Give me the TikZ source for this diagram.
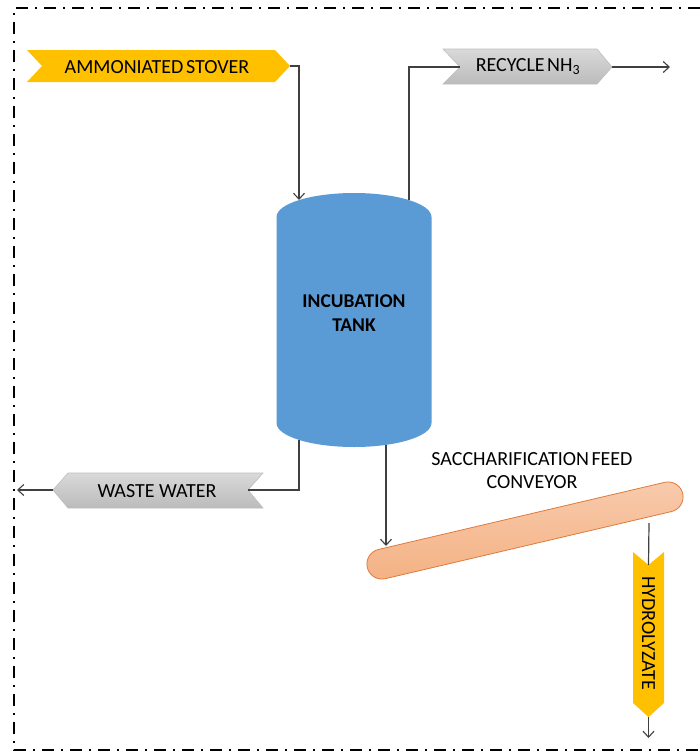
\documentclass[tikz,border=0pt]{standalone}
\usepackage{fontspec}
\setmainfont{Carlito}
\usetikzlibrary{arrows.meta,calc}
\definecolor{feedyellow}{HTML}{FFC000}
\definecolor{tankblue}{HTML}{5B9BD5}
\definecolor{streamgray}{HTML}{D0D0D0}
\definecolor{streamedge}{HTML}{BDBDBD}
\definecolor{convfill}{HTML}{F4B183}
\definecolor{convlight}{HTML}{F8CBAD}
\definecolor{convedge}{HTML}{E07A3A}
\definecolor{pipe}{HTML}{404040}
\tikzset{
  x=1pt, y=-1pt,
  lbl/.style={font=\fontsize{20}{23}\selectfont, text=black, inner sep=0pt, align=center},
  pipeline/.style={draw=pipe, line width=1.2pt},
  flow/.style={pipeline, -{Straight Barb[length=6pt,width=11pt,line width=1.1pt]}},
  boundary/.style={draw=black, line width=2.3pt, dash pattern=on 12pt off 7pt on 2pt off 7pt},
  yellowtag/.style={fill=feedyellow},
  graytag/.style={top color=streamgray!80!white, bottom color=streamgray!90!black, draw=streamedge, line width=0.6pt},
}
\begin{document}
\begin{tikzpicture}
\useasboundingbox (0,0) rectangle (700,755);

% battery limit
\draw[boundary] (700,8) -- (14,8) -- (14,750) -- (700,750);

% ---------- incubation tank ----------
\fill[tankblue] (276.5,217) -- (276.5,423)
  arc[start angle=180, end angle=360, x radius=77.5, y radius=-24]
  -- (431.5,217)
  arc[start angle=0, end angle=180, x radius=77.5, y radius=-24] -- cycle;
\node[lbl, font=\fontsize{19.5}{24}\selectfont\bfseries] (tank) at (354,313) {INCUBATION\\TANK};
\coordinate (tank-in)   at (299,200);
\coordinate (tank-vent) at (409,200);
\coordinate (tank-ww)   at (299,440);
\coordinate (tank-out)  at (386,445);

% ---------- ammoniated stover feed ----------
\path[yellowtag] (27,50) -- (275,50) -- (290,66) -- (275,82) -- (27,82) -- (42,66) -- cycle;
\node[lbl] (stover) at (157,67) {AMMONIATED\kern-2pt\ STOVER};
\coordinate (stover-tip) at (290,66);
\draw[flow] (stover-tip) -| (tank-in);

% ---------- ammonia recycle ----------
\path[graytag] (443,49) -- (597,49) -- (612,67) -- (597,84) -- (443,84) -- (460,67) -- cycle;
\node[lbl] (nh3) at (528,67) {RECYCLE\kern-2pt\ NH\textsubscript{3}};
\coordinate (nh3-in)  at (460,67);
\coordinate (nh3-tip) at (612,67);
\coordinate (nh3-end) at (670,67);
\draw[pipeline] (tank-vent) |- (nh3-in);
\draw[flow] (nh3-tip) -- (nh3-end);

% ---------- waste water ----------
\path[graytag] (263,473) -- (68,473) -- (53,490) -- (68,508) -- (263,508) -- (248,490) -- cycle;
\node[lbl] (ww) at (157,491) {WASTE WATER};
\coordinate (ww-in)  at (248,490);
\coordinate (ww-tip) at (53,490);
\coordinate (ww-end) at (17,490);
\draw[pipeline] (tank-ww) |- (ww-in);
\draw[flow] (ww-tip) -- (ww-end);

% ---------- saccharification feed conveyor ----------
\node[rotate=13.2, minimum width=324pt, minimum height=30pt, rounded corners=15pt,
      draw=convedge, line width=0.8pt, top color=convlight, bottom color=convfill, inner sep=0pt]
  (conv) at (525,530.5) {};
\node[lbl] (convlbl) at (532,471) {SACCHARIFICATION\kern-2pt\ FEED\\CONVEYOR};
\coordinate (conv-in)  at (386,546);
\coordinate (conv-out) at (649,523);
\draw[flow] (tank-out) -- (conv-in);

% ---------- hydrolyzate product ----------
\path[yellowtag] (633,552) -- (648.5,565) -- (664,552) -- (664,703) -- (648.5,717) -- (633,703) -- cycle;
\node[lbl, rotate=-90] (hyd) at (648.5,633) {HYDROLYZATE};
\coordinate (hyd-in)  at (648.5,565);
\coordinate (hyd-tip) at (648.5,717);
\coordinate (hyd-end) at (648.5,738);
\draw[pipeline] (conv-out) -- (hyd-in);
\draw[flow] (hyd-tip) -- (hyd-end);
\end{tikzpicture}
\end{document}
